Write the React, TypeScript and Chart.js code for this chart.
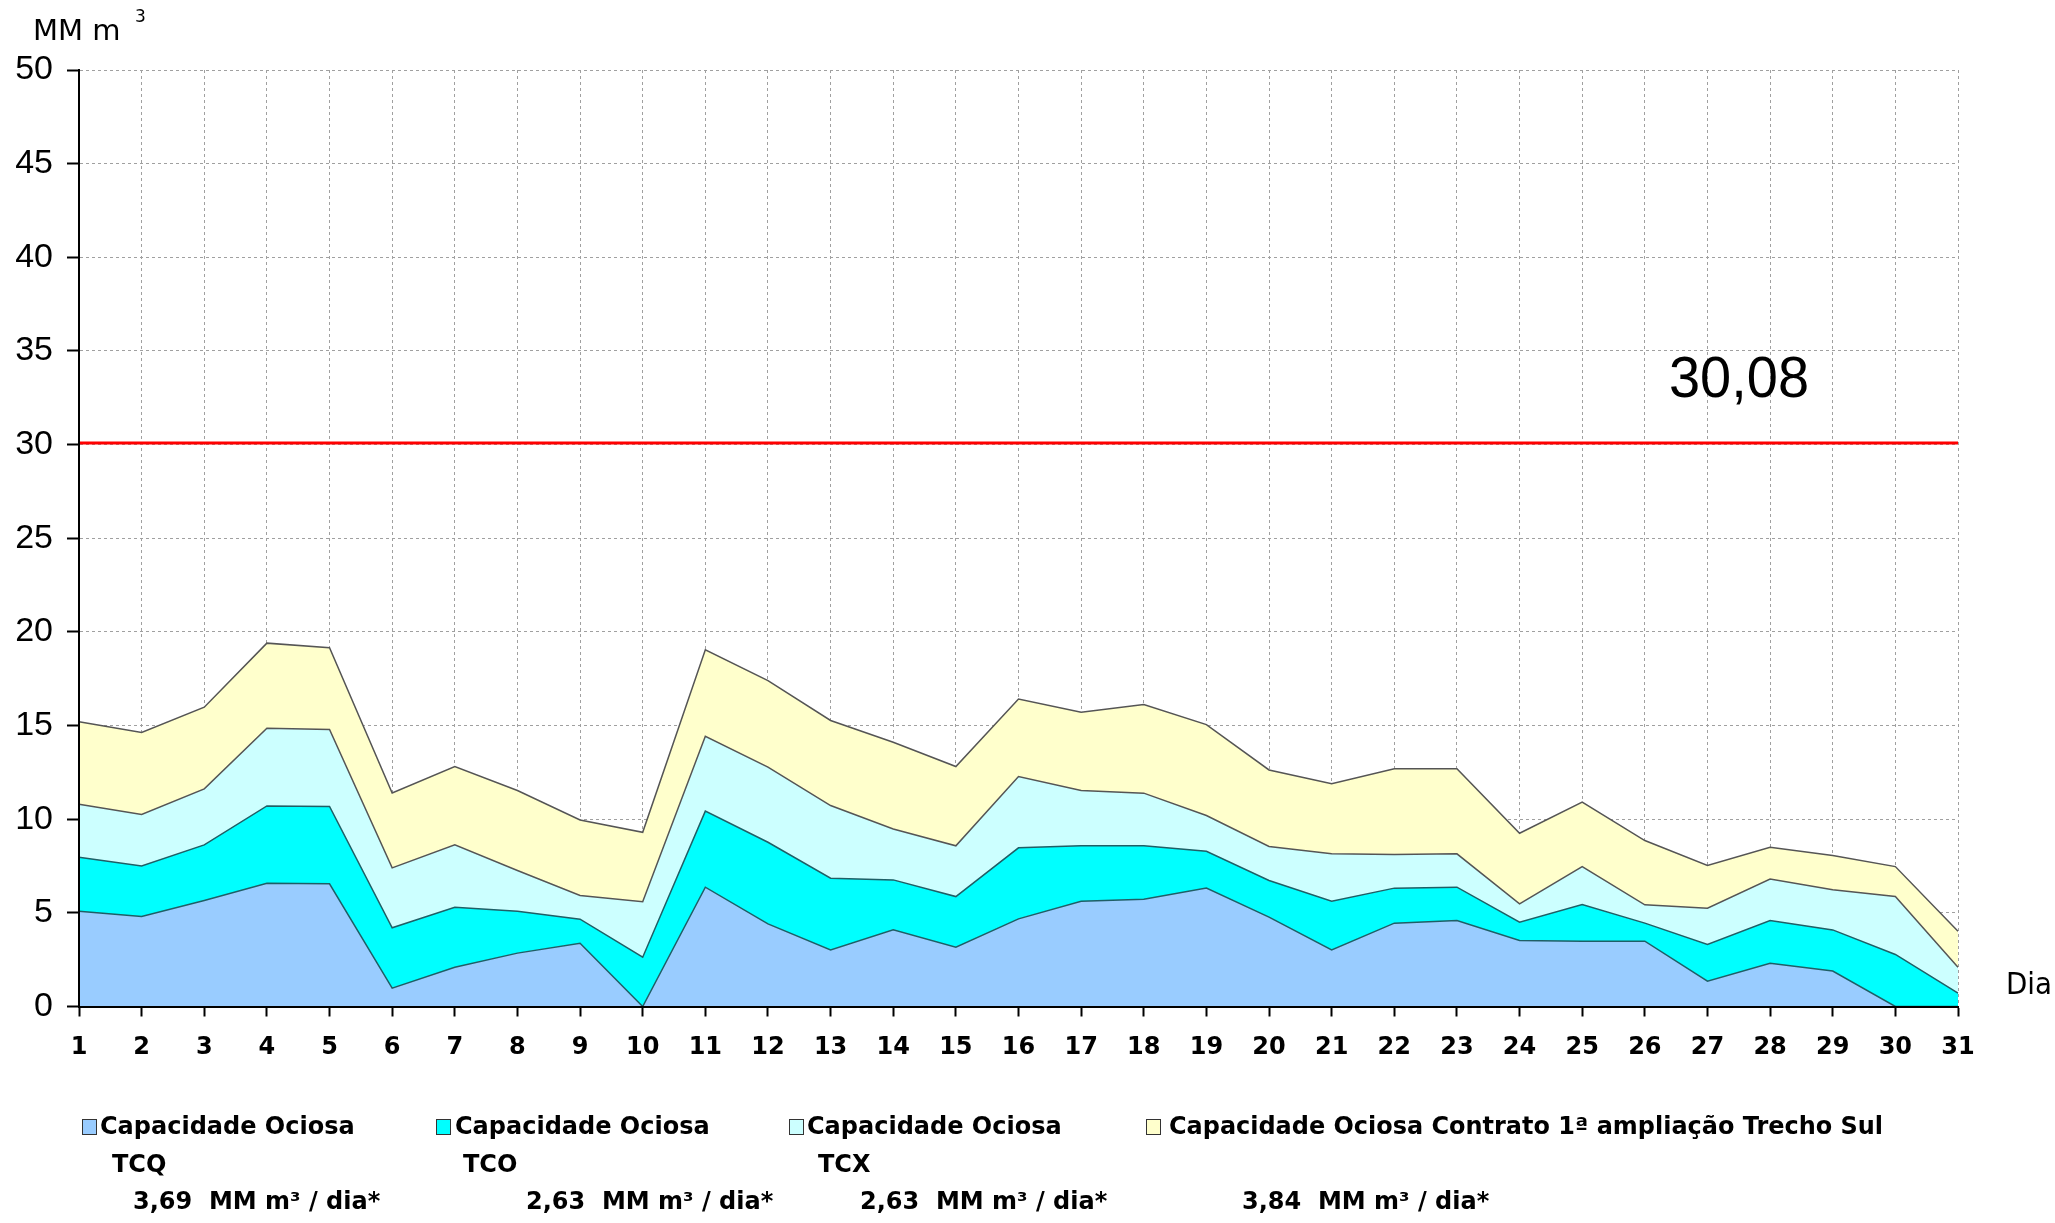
import React, { useEffect, useRef } from 'react';
import { Chart, registerables } from 'chart.js';

Chart.register(...registerables);

const days = ['1','2','3','4','5','6','7','8','9','10','11','12','13','14','15','16','17','18','19','20','21','22','23','24','25','26','27','28','29','30','31'];

const tcq = [5.09, 4.80, 5.66, 6.58, 6.55, 0.98, 2.10, 2.85, 3.38, 0, 6.37, 4.41, 3.02, 4.09, 3.17, 4.68, 5.62, 5.73, 6.32, 4.77, 3.02, 4.45, 4.59, 3.52, 3.49, 3.49, 1.35, 2.31, 1.89, 0, 0];
const tco = [2.88, 2.70, 2.97, 4.13, 4.13, 3.22, 3.20, 2.24, 1.28, 2.63, 4.06, 4.36, 3.83, 2.67, 2.70, 3.79, 2.96, 2.85, 1.97, 1.96, 2.60, 1.87, 1.78, 0.98, 1.95, 0.96, 1.96, 2.28, 2.20, 2.78, 0.71];
const tcx = [2.83, 2.75, 2.99, 4.15, 4.11, 3.20, 3.33, 2.17, 1.27, 2.96, 4.00, 4.01, 3.88, 2.72, 2.71, 3.81, 2.95, 2.81, 1.91, 1.81, 2.53, 1.79, 1.78, 0.98, 2.03, 0.98, 1.94, 2.22, 2.14, 3.09, 1.39];
const sul = [4.40, 4.38, 4.36, 4.54, 4.36, 4.00, 4.18, 4.27, 4.03, 3.71, 4.61, 4.62, 4.54, 4.63, 4.23, 4.14, 4.18, 4.73, 4.85, 4.09, 3.74, 4.58, 4.54, 3.77, 3.44, 3.43, 2.28, 1.69, 1.83, 1.60, 1.92];

const limitValue = 30.08;
const limitLabel = '30,08';

const legendLine1 = ['Capacidade Ociosa', 'Capacidade Ociosa', 'Capacidade Ociosa', 'Capacidade Ociosa Contrato 1ª ampliação Trecho Sul'];
const legendLine2 = ['TCQ', 'TCO', 'TCX', ''];
const capacities = ['3,69', '2,63', '2,63', '3,84'];

const fillColors = ['#99CCFF', '#00FFFF', '#CCFFFF', '#FFFFCC'];
const lineColors = ['#1F5F66', '#1F5F66', '#555555', '#555555'];

const FONT = '"DejaVu Sans", sans-serif';

const textPlugin = {
  id: 'textPlugin',
  afterDraw(chart: any) {
    const ctx = chart.ctx as CanvasRenderingContext2D;
    ctx.save();
    ctx.fillStyle = '#000';
    ctx.textBaseline = 'middle';
    ctx.textAlign = 'left';

    // unit label
    ctx.font = `29px ${FONT}`;
    ctx.fillText('MM m', 33, 32, 92);
    ctx.font = `17px ${FONT}`;
    ctx.fillText('3', 135, 18);

    // x axis title
    ctx.font = `31px ${FONT}`;
    ctx.fillText('Dia', 2006, 986, 46);

    // limit label
    ctx.font = `58px "Liberation Sans", Arial, sans-serif`;
    ctx.fillText(limitLabel, 1669, 381, 140);

    // legend
    const boxX = [82, 436, 789, 1146];
    const t1X = [100, 455, 807, 1169];
    const t1W = [256, 256, 256, 714];
    const t2X = [112, 463, 818, 0];
    const t3X = [133, 526, 860, 1242];
    for (let i = 0; i < 4; i++) {
      ctx.fillStyle = fillColors[i];
      ctx.fillRect(boxX[i], 1119, 14, 15);
      ctx.strokeStyle = '#333';
      ctx.lineWidth = 1;
      ctx.strokeRect(boxX[i] + 0.5, 1119.5, 14, 15);
      ctx.fillStyle = '#000';
      ctx.font = `bold 24px ${FONT}`;
      ctx.fillText(legendLine1[i], t1X[i], 1128, t1W[i]);
      if (legendLine2[i]) ctx.fillText(legendLine2[i], t2X[i], 1166);
      ctx.fillText(`${capacities[i]}  MM m³ / dia*`, t3X[i], 1203, 258);
    }
    ctx.restore();
  },
};

export default function App() {
  const ref = useRef<HTMLCanvasElement | null>(null);
  useEffect(() => {
    if (!ref.current) return;
    const series = [tcq, tco, tcx, sul];
    const names = ['Capacidade Ociosa TCQ', 'Capacidade Ociosa TCO', 'Capacidade Ociosa TCX', 'Capacidade Ociosa Contrato 1ª ampliação Trecho Sul'];
    const datasets: any[] = series.map((d, i) => ({
      label: names[i],
      data: d,
      backgroundColor: fillColors[i],
      borderColor: lineColors[i],
      borderWidth: 1.5,
      pointRadius: 0,
      tension: 0,
      fill: i === 0 ? 'origin' : '-1',
      stack: 'cap',
    }));
    datasets.push({
      label: 'Limite',
      data: days.map(() => limitValue),
      borderColor: '#FF0000',
      borderWidth: 3,
      pointRadius: 0,
      fill: false,
      stack: 'limit',
    });
    const chart = new Chart(ref.current, {
      type: 'line',
      data: { labels: days, datasets },
      options: {
        animation: false,
        responsive: false,
        maintainAspectRatio: false,
        layout: { padding: { left: 0, top: 70, right: 97, bottom: 0 } },
        plugins: { legend: { display: false }, title: { display: false }, tooltip: { enabled: false } },
        scales: {
          x: {
            type: 'category',
            offset: false,
            afterFit: (s: any) => { s.height = 216.5; },
            grid: {
              color: '#A0A0A0',
              lineWidth: 1,
              tickColor: '#000',
              tickWidth: 2,
              tickLength: 10,
              tickBorderDash: [],
            },
            border: { display: true, color: '#000', width: 2, dash: [3, 3], z: 1 },
            ticks: {
              color: '#000',
              font: { family: FONT, size: 24, weight: 'bold' },
              padding: 17,
              maxRotation: 0,
              autoSkip: false,
            },
          },
          y: {
            stacked: true,
            min: 0,
            max: 50,
            afterFit: (s: any) => { s.width = 79; },
            grid: {
              color: '#A0A0A0',
              lineWidth: 1,
              tickColor: '#000',
              tickWidth: 2,
              tickLength: 12,
              tickBorderDash: [],
            },
            border: { display: true, color: '#000', width: 2, dash: [3, 3], z: 1 },
            ticks: {
              stepSize: 5,
              color: '#000',
              font: { family: '"Liberation Sans", Arial, sans-serif', size: 34 },
              padding: 14,
            },
          },
        },
      },
      plugins: [textPlugin],
    });
    return () => chart.destroy();
  }, []);
  return (
    <div style={{ position: 'absolute', left: 0, top: 0, width: 2055, height: 1223, background: '#fff' }}>
      <canvas ref={ref} width={2055} height={1223} style={{ width: 2055, height: 1223, display: 'block' }} />
    </div>
  );
}
